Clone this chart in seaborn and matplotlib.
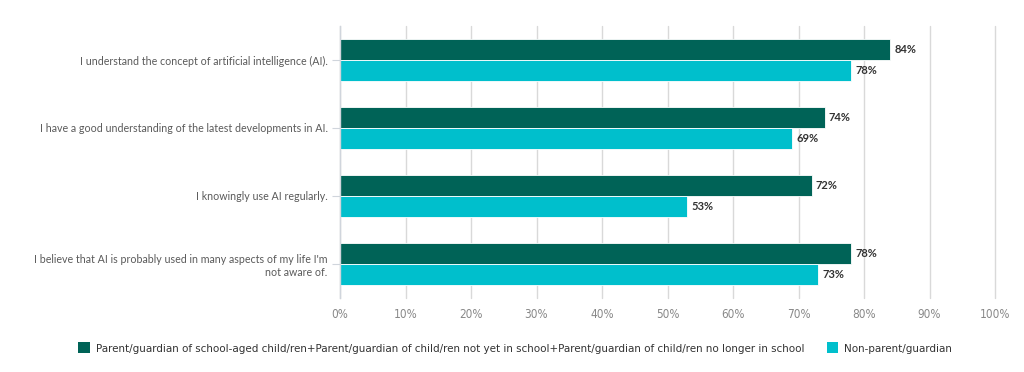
import matplotlib
matplotlib.use("Agg")
import matplotlib.pyplot as plt
import seaborn as sns
import pandas as pd
from matplotlib.patches import Patch

# Data
STATEMENTS = [
    "I understand the concept of artificial intelligence (AI).",
    "I have a good understanding of the latest developments in AI.",
    "I knowingly use AI regularly.",
    "I believe that AI is probably used in many aspects of my life I'm\nnot aware of.",
]
GROUPS = [
    "Parent/guardian of school-aged child/ren+Parent/guardian of child/ren not yet in school+Parent/guardian of child/ren no longer in school",
    "Non-parent/guardian",
]
PARENT_VALUES = [84, 74, 72, 78]
NON_PARENT_VALUES = [78, 69, 53, 73]
X_TICKS = [0, 10, 20, 30, 40, 50, 60, 70, 80, 90, 100]

COLORS = ["#006357", "#00BFCC"]

rows = []
for stmt, p, n in zip(STATEMENTS, PARENT_VALUES, NON_PARENT_VALUES):
    rows.append({"statement": stmt, "group": GROUPS[0], "value": p})
    rows.append({"statement": stmt, "group": GROUPS[1], "value": n})
df = pd.DataFrame(rows)

sns.set_theme(style="white")
plt.rcParams["font.family"] = ["Lato", "DejaVu Sans"]

fig = plt.figure(figsize=(10.24, 3.72), dpi=100)
ax = fig.add_axes([340 / 1024, 1 - 298 / 372, 655 / 1024, 272 / 372])

sns.barplot(data=df, y="statement", x="value", hue="group", order=STATEMENTS,
            hue_order=GROUPS, palette=COLORS, orient="h", width=0.62,
            saturation=1, edgecolor="white", linewidth=0.6, ax=ax, legend=False)

# value labels
for container in ax.containers:
    ax.bar_label(container, labels=[f"{v:.0f}%" for v in container.datavalues],
                 padding=3, fontsize=8, fontweight="bold", color="#333333")

ax.set_xlim(0, 100)
ax.set_xticks(X_TICKS)
ax.set_xticklabels([f"{t}%" for t in X_TICKS], fontsize=8.5, color="#888888",
                   family="DejaVu Sans", fontstretch="condensed")
ax.set_ylim(3.5, -0.5)
ax.set_xlabel("")
ax.set_ylabel("")
ax.tick_params(axis="y", labelsize=7.7, labelcolor="#5a5a5a", length=6,
               color="#d0d5dc", width=0.8, left=True, pad=3)
ax.tick_params(axis="x", length=0, pad=7)

ax.grid(axis="x", color="#d9d9d9", linewidth=1)
for gl in ax.get_xgridlines():
    gl.set_clip_on(False)
ax.set_axisbelow(True)
for side in ["top", "right", "bottom"]:
    ax.spines[side].set_visible(False)
ax.spines["left"].set_color("#d0d5dc")
ax.spines["left"].set_linewidth(1)

for lbl in ax.get_yticklabels():
    lbl.set_horizontalalignment("right")
    lbl.set_multialignment("right")

handles = [Patch(facecolor=c, edgecolor="none") for c in COLORS]
fig.legend(handles, GROUPS, loc="center left", bbox_to_anchor=(68 / 1024, 1 - 348 / 372),
           ncol=2, frameon=False, handlelength=1.0, handleheight=1.0,
           handletextpad=0.5, columnspacing=2.0, labelcolor="#333333",
           prop={"family": "DejaVu Sans", "size": 8.25, "stretch": "condensed"})

fig.savefig("out.png", dpi=100)
